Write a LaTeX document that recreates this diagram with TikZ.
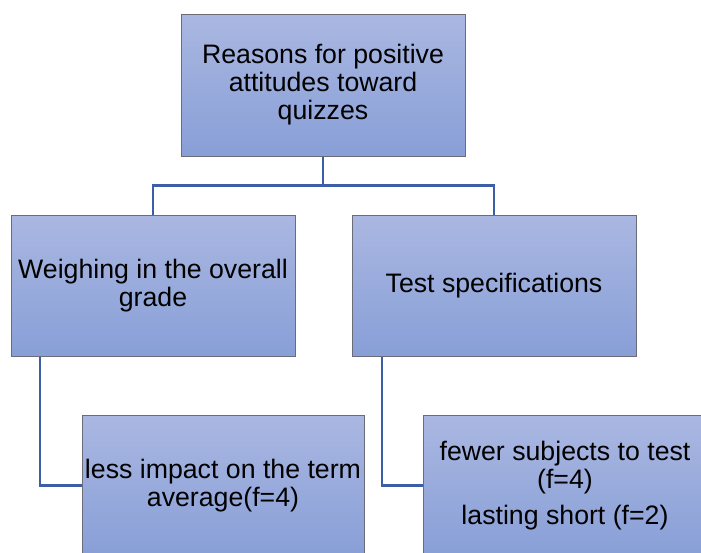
\documentclass[tikz,border=0pt]{standalone}
\usepackage{fontspec}
\setmainfont{Liberation Sans}
\definecolor{boxtop}{HTML}{AAB7E1}
\definecolor{boxbot}{HTML}{889FD7}
\definecolor{boxedge}{HTML}{6A6D78}
\definecolor{linkblue}{HTML}{3B5EA6}
\begin{document}
\begin{tikzpicture}[x=1pt,y=-1pt,
  box/.style={draw=boxedge, line width=1pt, top color=boxtop, bottom color=boxbot,
    align=center, inner sep=0pt, minimum width=284pt, minimum height=141pt,
    font=\fontsize{26.7}{28}\selectfont, text=black},
  link/.style={draw=linkblue, line width=2.7pt, line join=miter}]
  \useasboundingbox (0,0) rectangle (701,552);
  \clip (0,0) rectangle (701,552);

  % hierarchy boxes
  \node[box, minimum height=142pt] (root) at (323,85) {Reasons for positive\\attitudes toward\\quizzes};
  \node[box] (weigh) at (153,285.5) {Weighing in the overall\\grade};
  \node[box] (spec) at (494,285.5) {Test specifications};
  \node[box, minimum width=282pt] (impact) at (223,485.5) {less impact on the term\\average(f=4)};
  \node[box] (fewer) at (565,485.5) {fewer subjects to test\\(f=4)\\[8pt]lasting short (f=2)};

  % connectors
  \draw[link] (root.south) -- ++(0,29) coordinate (bus);
  \draw[link] (weigh.north) |- (bus) -| (spec.north);
  \draw[link] ([xshift=-113pt]weigh.south) |- (impact.west);
  \draw[link] ([xshift=-112pt]spec.south) |- (fewer.west);
\end{tikzpicture}
\end{document}
